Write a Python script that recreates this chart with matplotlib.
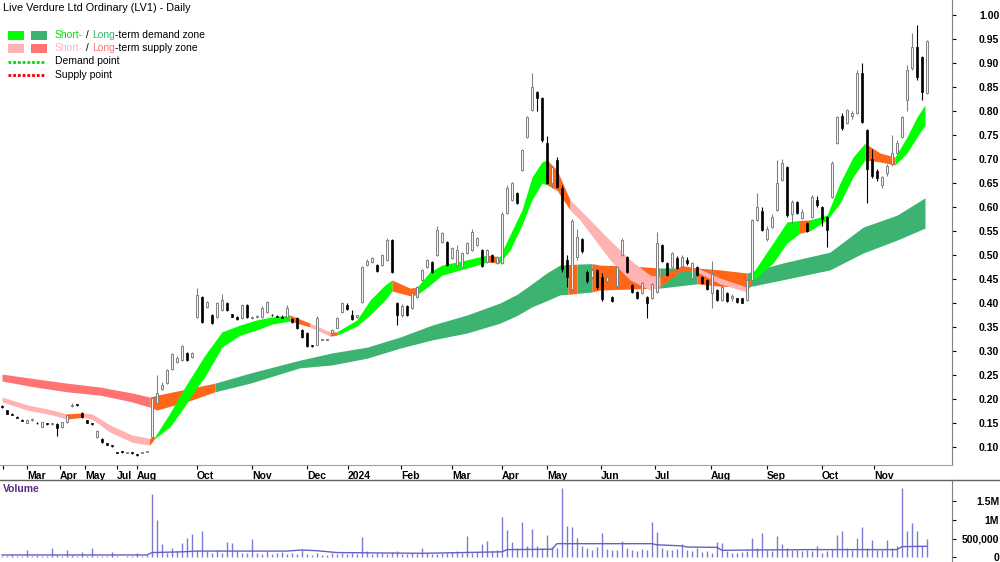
import numpy as np
import matplotlib
matplotlib.use('Agg')
import matplotlib.pyplot as plt
from matplotlib.patches import Rectangle
from matplotlib.lines import Line2D

plt.rcParams['font.family'] = ['Liberation Sans', 'DejaVu Sans']

# daily bars (one entry per plotted bar)
opens = [.185, .177, .169, .163, .157, .151, .156, .151, .142, .149,
         .148, .148, .142, .152, .185, .188, .171, .156, .148, .121,
         .117, .108, .103, .089, .090, .088, .088, .084, .088, .090,
         .121, .192, .220, .233, .262, .277, .281, .295, .288, .371,
         .413, .392, .375, .371, .386, .400, .377, .371, .369, .396,
         .369, .371, .371, .381, .376, .373, .371, .370, .366, .369,
         .344, .338, .311, .313, .323, .323, .338, .348, .381, .396,
         .375, .370, .402, .480, .485, .480, .480, .490, .531, .400,
         .376, .394, .390, .413, .448, .475, .485, .500, .527, .527,
         .494, .480, .475, .504, .510, .520, .510, .485, .500, .483,
         .483, .588, .615, .629, .677, .746, .802, .840, .827, .733,
         .650, .698, .640, .490, .430, .495, .533, .465, .455, .469,
         .455, .445, .413, .435, .500, .496, .438, .423, .421, .413,
         .410, .423, .520, .483, .475, .494, .478, .490, .452, .475,
         .454, .448, .420, .427, .406, .420, .410, .410, .410, .406,
         .448, .573, .592, .533, .558, .594, .656, .683, .585, .610,
         .577, .567, .579, .615, .600, .579, .621, .733, .790, .775,
         .790, .796, .880, .760, .700, .675, .645, .670, .690, .713,
         .746, .823, .890, .933, .913, .838]
highs = [.188, .178, .170, .164, .158, .158, .160, .152, .153, .150,
         .149, .150, .153, .168, .192, .190, .172, .157, .149, .136,
         .118, .109, .104, .090, .091, .089, .089, .085, .089, .092,
         .205, .250, .235, .262, .296, .290, .312, .297, .298, .431,
         .415, .404, .377, .402, .418, .402, .378, .372, .398, .398,
         .372, .374, .393, .404, .377, .375, .374, .395, .368, .370,
         .346, .340, .313, .372, .324, .324, .345, .370, .402, .400,
         .385, .376, .478, .492, .496, .482, .502, .535, .533, .403,
         .398, .396, .422, .435, .470, .492, .487, .560, .548, .530,
         .516, .520, .506, .527, .555, .537, .512, .512, .502, .498,
         .590, .645, .652, .631, .720, .790, .879, .842, .829, .748,
         .685, .705, .645, .500, .575, .555, .535, .468, .472, .471,
         .462, .460, .415, .477, .535, .498, .440, .425, .444, .415,
         .442, .548, .522, .485, .506, .498, .500, .495, .485, .478,
         .456, .450, .488, .430, .435, .422, .418, .411, .411, .450,
         .575, .630, .600, .560, .585, .698, .700, .685, .615, .612,
         .595, .569, .625, .622, .602, .581, .695, .790, .795, .805,
         .800, .885, .900, .762, .720, .680, .665, .690, .750, .740,
         .790, .895, .963, .980, .915, .948]
lows = [.182, .168, .166, .160, .154, .149, .154, .148, .141, .146,
        .146, .123, .140, .151, .183, .185, .160, .150, .146, .118,
        .109, .104, .101, .087, .088, .087, .086, .082, .087, .089,
        .118, .190, .218, .232, .260, .276, .280, .280, .286, .369,
        .358, .390, .356, .369, .384, .384, .370, .364, .367, .368,
        .366, .368, .369, .380, .372, .370, .368, .368, .358, .346,
        .328, .309, .309, .312, .322, .322, .336, .347, .380, .385,
        .364, .368, .400, .478, .484, .465, .478, .488, .462, .354,
        .370, .372, .388, .411, .446, .473, .463, .498, .525, .478,
        .492, .478, .473, .502, .508, .518, .475, .483, .486, .481,
        .481, .585, .612, .606, .675, .744, .800, .800, .735, .648,
        .640, .640, .465, .433, .425, .490, .505, .442, .450, .430,
        .405, .440, .402, .433, .498, .463, .420, .408, .419, .369,
        .408, .421, .485, .456, .473, .471, .476, .480, .450, .456,
        .440, .427, .390, .404, .404, .402, .405, .400, .400, .404,
        .446, .570, .550, .530, .556, .592, .654, .579, .565, .585,
        .575, .548, .577, .600, .560, .517, .619, .731, .760, .773,
        .783, .794, .775, .608, .660, .655, .640, .665, .685, .710,
        .744, .800, .885, .865, .823, .836]
closes = [.183, .169, .167, .161, .155, .156, .157, .149, .152, .147,
          .149, .140, .152, .167, .186, .187, .162, .151, .147, .134,
          .110, .105, .102, .088, .089, .088, .087, .083, .088, .091,
          .202, .212, .230, .260, .294, .285, .310, .282, .296, .417,
          .360, .402, .358, .400, .406, .386, .371, .366, .396, .370,
          .370, .372, .390, .402, .374, .371, .369, .390, .360, .348,
          .330, .311, .310, .369, .323, .323, .344, .369, .400, .387,
          .366, .374, .475, .488, .494, .467, .500, .531, .465, .376,
          .394, .375, .420, .433, .469, .490, .465, .552, .546, .480,
          .515, .510, .504, .525, .548, .535, .477, .510, .488, .496,
          .585, .640, .650, .608, .719, .788, .850, .827, .740, .650,
          .683, .642, .470, .455, .570, .538, .508, .445, .468, .433,
          .408, .455, .404, .475, .531, .465, .423, .410, .442, .400,
          .440, .525, .488, .458, .504, .473, .495, .483, .483, .458,
          .442, .430, .460, .406, .433, .404, .415, .402, .401, .448,
          .573, .600, .552, .555, .579, .650, .692, .583, .610, .588,
          .590, .550, .621, .605, .575, .552, .692, .788, .765, .802,
          .795, .880, .778, .680, .665, .660, .662, .685, .712, .733,
          .788, .885, .933, .870, .840, .945]
# volume in thousands of shares
volume_k = [40, 30, 50, 20, 40, 190, 30, 60, 40, 30,
            250, 50, 40, 200, 60, 40, 130, 30, 250, 40,
            30, 20, 130, 20, 10, 30, 20, 120, 40, 60,
            1700, 1000, 340, 120, 250, 150, 390, 520, 610, 180,
            700, 150, 120, 200, 100, 400, 380, 150, 120, 100,
            500, 120, 90, 150, 80, 100, 130, 90, 110, 70,
            200, 90, 60, 120, 50, 60, 100, 80, 120, 90,
            110, 80, 540, 150, 90, 120, 100, 80, 130, 150,
            90, 70, 100, 80, 230, 110, 80, 90, 120, 100,
            130, 150, 110, 570, 120, 140, 340, 430, 160, 200,
            1090, 720, 400, 250, 950, 300, 750, 300, 250, 600,
            280, 250, 1860, 840, 800, 520, 300, 250, 200, 280,
            660, 220, 200, 180, 430, 250, 200, 150, 220, 180,
            950, 680, 250, 200, 180, 220, 340, 200, 150, 250,
            130, 150, 120, 400, 380, 150, 120, 100, 130, 150,
            520, 250, 660, 200, 150, 570, 350, 250, 180, 200,
            150, 180, 160, 300, 120, 150, 220, 600, 700, 250,
            200, 520, 800, 250, 450, 200, 180, 450, 250, 300,
            1860, 700, 930, 700, 300, 480]
vol_ma_x = [0, 29, 30, 36, 39, 57, 60, 63, 67, 84, 100, 101, 110, 111,
            130, 131, 136, 137, 143, 144, 150, 162, 179, 180, 185]
vol_ma_k = [55, 55, 120, 140, 160, 160, 190, 170, 120, 100, 140, 200, 210, 360,
            360, 330, 300, 270, 260, 180, 190, 200, 200, 280, 290]

# short-term zone (edges read at these bar positions, state of each stretch)
short_x = [0, 5, 10, 13, 16, 18, 21.6, 26, 29.5, 30.6,
           33.6, 36, 39.6, 40.5, 44, 47.6, 51, 54, 57.6, 61.6,
           65.6, 67, 71, 73.6, 76.6, 78, 81.6, 83, 85.6, 88,
           93, 97, 99.5, 101.6, 104, 106, 108, 109, 111, 113.6,
           115.6, 121.6, 125.6, 129.6, 131.6, 136, 139, 143.6, 149, 150,
           154.2, 157, 159.5, 161.5, 165, 167.6, 170.2, 172.6, 175.6, 178.6,
           181, 183, 184.6]
short_top = [.204, .188, .177, .169, .171, .169, .146, .125, .118, .122,
             .171, .215, .275, .290, .340, .354, .365, .371, .375, .358,
             .340, .340, .365, .406, .4375, .448, .431, .433, .465, .479,
             .490, .500, .496, .542, .594, .6625, .694, .698, .677, .615,
             .594, .531, .490, .458, .455, .478, .473, .452, .433, .460,
             .525, .569, .572, .573, .583, .650, .704, .733, .7125, .704,
             .746, .7875, .8125]
short_bot = [.194, .177, .167, .158, .162, .158, .131, .110, .104, .118,
             .142, .177, .233, .245, .308, .333, .344, .356, .3625, .350,
             .331, .333, .352, .375, .406, .425, .415, .417, .4375, .458,
             .473, .485, .483, .510, .5625, .615, .650, .646, .635, .594,
             .573, .490, .448, .427, .435, .468, .465, .440, .423, .445,
             .483, .525, .545, .550, .573, .608, .6625, .698, .694, .6875,
             .7125, .746, .771]
short_state = "sssossssod" "ddddddddos" "oddddooddd" "dodddddoos" "ssssoossod" "ddoddddood" "dd"

# long-term zone
long_x = [0, 6, 13, 19.6, 26, 29.6, 31, 38, 42.6, 49.6,
          59.6, 66, 73, 79.6, 86, 93, 99.6, 103, 106, 109,
          111.6, 113.2, 115, 118, 119.6, 125.6, 131.6, 139, 143.6, 149,
          156, 165.6, 172.2, 179, 184.6]
long_top = [.252, .243, .233, .225, .2125, .204, .208, .223, .233, .254,
            .281, .296, .308, .329, .354, .375, .400, .418, .440, .463,
            .479, .480, .481, .482, .479, .477, .473, .473, .469, .4625,
            .483, .506, .558, .583, .619]
long_bot = [.2375, .226, .215, .208, .194, .183, .177, .198, .215, .233,
            .265, .271, .285, .306, .323, .3375, .358, .374, .392, .405,
            .417, .418, .420, .423, .427, .429, .431, .440, .435, .433,
            .448, .469, .504, .531, .556]
long_state = "sssssooodd" "dddddddddd" "dodooodood" "dddd"

tick_pos = [0.2, 5, 11.6, 16.6, 23, 27, 39, 50, 61, 69.2, 79.8, 90, 100, 109,
            119.8, 130.6, 141.8, 153, 164, 174.4]
tick_lab = ['', 'Mar', 'Apr', 'May', 'Jul', 'Aug', 'Oct', 'Nov', 'Dec', '2024',
            'Feb', 'Mar', 'Apr', 'May', 'Jun', 'Jul', 'Aug', 'Sep', 'Oct', 'Nov']

short_cols = {'d': '#00ff00', 's': '#ffb3b3', 'o': '#ff661a'}
long_cols = {'d': '#3cb371', 's': '#ff7373', 'o': '#ff661a'}


def draw_zone(ax, xs, top, bot, states, cols, z):
    start = 0
    for k in range(1, len(states) + 1):
        if k == len(states) or states[k] != states[start]:
            ax.fill_between(xs[start:k + 1], top[start:k + 1], bot[start:k + 1],
                            color=cols[states[start]], lw=0, zorder=z)
            start = k


W, H = 1000, 562
fig = plt.figure(figsize=(10, 5.62), dpi=100)
ax = fig.add_axes([0, 97 / H, 952 / W, 465 / H])
axv = fig.add_axes([0, 0, 952 / W, 82 / H])

draw_zone(ax, long_x, long_top, long_bot, long_state, long_cols, 1)
draw_zone(ax, short_x, short_top, short_bot, short_state, short_cols, 2)

o = np.array(opens)
hi = np.array(highs)
lo = np.array(lows)
c = np.array(closes)
idx = np.arange(len(c))
up = c >= o
ax.vlines(idx[up], lo[up], hi[up], color='#808080', lw=0.8, zorder=3)
ax.vlines(idx[~up], lo[~up], hi[~up], color='black', lw=0.8, zorder=3)
body_lo = np.minimum(o, c)
body_h = np.maximum(np.abs(c - o), 0.002)
ax.bar(idx[up], body_h[up], bottom=body_lo[up], width=0.55, facecolor='#f2f2f2',
       edgecolor='#808080', lw=0.7, zorder=4)
ax.bar(idx[~up], body_h[~up], bottom=body_lo[~up], width=0.55, facecolor='black',
       edgecolor='black', lw=0.5, zorder=4)

ax.set_xlim(-0.4, 190)
ax.set_ylim(0.0625, 1.03125)
ax.yaxis.tick_right()
yt = np.arange(0.10, 1.001, 0.05)
ax.set_yticks(yt)
ax.set_yticklabels([f'{v:.2f}' for v in yt])
ax.tick_params(axis='y', direction='out', length=3, width=0.8, labelsize=7.5, pad=31)
for lab in ax.get_yticklabels():
    lab.set_horizontalalignment('right')
    lab.set_fontweight('bold')
ax.set_xticks(tick_pos)
ax.set_xticklabels(tick_lab, ha='left', fontsize=7.5, fontweight='bold')
ax.tick_params(axis='x', direction='out', length=3, width=0.8, pad=1)
for s in ['left', 'top']:
    ax.spines[s].set_visible(False)
ax.spines['bottom'].set_color('#a0a0a0')
ax.spines['right'].set_color('#808080')

# volume panel
vol = np.array(volume_k) * 1000
axv.vlines(idx, 0, vol, color='#7b7bd6', lw=1)
axv.plot(vol_ma_x, np.array(vol_ma_k) * 1000, color='#6262c4', lw=1)
axv.set_xlim(-0.4, 190)
axv.set_ylim(-0.135e6, 2.081e6)
axv.yaxis.tick_right()
axv.set_yticks([0, 5e5, 1e6, 1.5e6])
axv.set_yticklabels(['0', '500,000', '1M', '1.5M'])
axv.tick_params(axis='y', direction='out', length=3, width=0.8, labelsize=7.5, pad=31)
for lab in axv.get_yticklabels():
    lab.set_horizontalalignment('right')
    lab.set_fontweight('bold')
axv.set_xticks([])
for s in ['left', 'bottom', 'top']:
    axv.spines[s].set_visible(False)
axv.spines['right'].set_color('#808080')
fig.add_artist(Line2D([0, 1], [82 / H, 82 / H], transform=fig.transFigure,
                      color='#606060', lw=1))
fig.text(3 / W, 1 - 489 / H, 'Volume', color='#5b2a86', fontsize=7.5,
         fontweight='bold', va='center')


def fy(y):
    return 1 - y / H


# title and legend
fig.text(3 / W, fy(8), 'Live Verdure Ltd Ordinary (LV1) - Daily', fontsize=7.8, va='center')
for x0, y0, col in [(8, 31, '#00ff00'), (31, 31, '#3cb371'),
                    (8, 44, '#ffb3b3'), (31, 44, '#ff7373')]:
    fig.add_artist(Rectangle((x0 / W, fy(y0 + 9)), 16 / W, 9 / H, color=col,
                             transform=fig.transFigure, lw=0))


def chain(parts, x, y):
    t = fig.text(x / W, fy(y), parts[0][0], color=parts[0][1], fontsize=7.5, va='center')
    for s, col in parts[1:]:
        t = ax.annotate(s, xy=(1, 0), xycoords=t, va='bottom', ha='left', color=col,
                        fontsize=7.5, annotation_clip=False)


chain([('Short-', '#00e000'), (' / ', 'black'), ('Long', '#3cb371'),
       ('-term demand zone', 'black')], 55, 35)
chain([('Short-', '#ffb3b3'), (' / ', 'black'), ('Long', '#ff7373'),
       ('-term supply zone', 'black')], 55, 48)
fig.text(55 / W, fy(61.5), 'Demand point', fontsize=7.5, va='center')
fig.text(55 / W, fy(74.5), 'Supply point', fontsize=7.5, va='center')
fig.add_artist(Line2D([8 / W, 45 / W], [fy(62), fy(62)], transform=fig.transFigure,
                      color='#00e000', lw=2, linestyle=(0, (1, 0.7))))
fig.add_artist(Line2D([8 / W, 45 / W], [fy(75), fy(75)], transform=fig.transFigure,
                      color='#ee0000', lw=2, linestyle=(0, (1, 0.7))))

fig.savefig('out.png', dpi=100)
